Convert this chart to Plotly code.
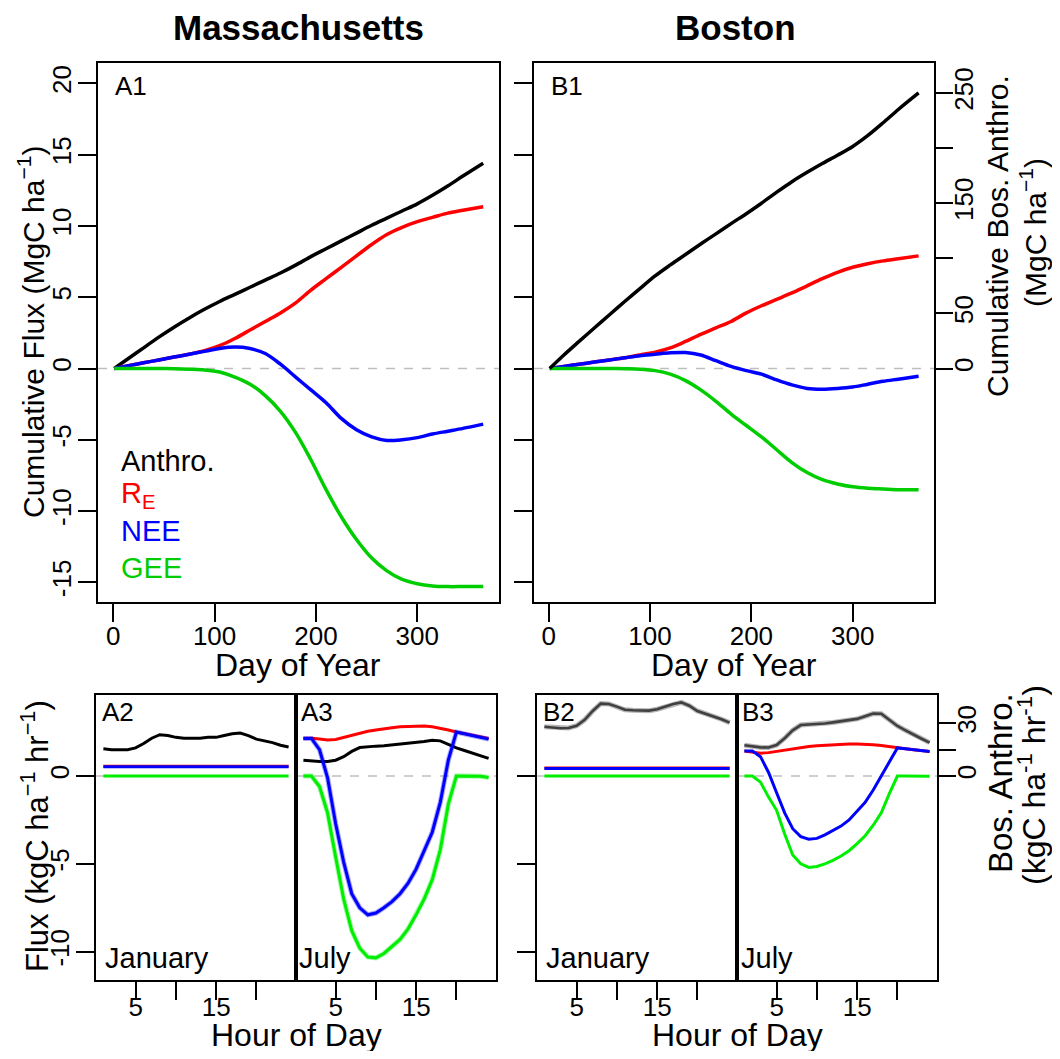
import plotly.graph_objects as go

# page has an 8px body margin: figure is drawn 8px in from the page corner
OFF = 8
W, H = 1044, 1043
FONT = "Liberation Sans"

def fx(p):
    return (p - OFF) / W

def fy(p):
    return 1 - (p - OFF) / H

# ---------------- data: cumulative (top panels) ----------------
days = [1, 15, 30, 45, 60, 75, 90, 105, 120, 135, 150, 165, 180, 195, 210,
        225, 240, 255, 270, 285, 300, 315, 330, 345, 365]

ma_anthro = [0, 0.7, 1.45, 2.2, 2.9, 3.55, 4.15, 4.7, 5.2, 5.7, 6.2, 6.7, 7.25, 7.85, 8.4,
             8.95, 9.5, 10.05, 10.55, 11.05, 11.55, 12.15, 12.8, 13.5, 14.4]
ma_re = [0, 0.2, 0.4, 0.6, 0.8, 1.0, 1.25, 1.6, 2.1, 2.7, 3.3, 3.9, 4.6, 5.5, 6.3,
         7.1, 7.9, 8.7, 9.4, 9.9, 10.3, 10.6, 10.9, 11.1, 11.35]
ma_nee = [0, 0.2, 0.4, 0.6, 0.8, 1.0, 1.2, 1.4, 1.5, 1.4, 1.05, 0.3, -0.6, -1.5, -2.4,
          -3.5, -4.3, -4.8, -5.05, -5.0, -4.85, -4.6, -4.4, -4.2, -3.9]
ma_gee = [0, 0, 0, 0, -0.02, -0.05, -0.1, -0.25, -0.6, -1.1, -1.9, -3.0, -4.5, -6.4, -8.5,
          -10.4, -12.0, -13.3, -14.2, -14.8, -15.1, -15.25, -15.3, -15.3, -15.3]

bos_anthro = [0, 12.3, 24.6, 36.8, 48.8, 60.8, 72.5, 84, 94, 103.5, 113, 122.2, 131.5, 140.5,
              150, 160, 169.5, 178, 186, 193.5, 201.5, 211.5, 223, 235, 250]
bos_re = [0, 0.15, 0.3, 0.45, 0.6, 0.75, 0.95, 1.15, 1.45, 1.9, 2.4, 2.85, 3.3, 3.9, 4.4,
          4.85, 5.3, 5.8, 6.3, 6.75, 7.1, 7.35, 7.55, 7.7, 7.9]
bos_nee = [0, 0.15, 0.3, 0.45, 0.6, 0.75, 0.9, 1.0, 1.1, 1.12, 0.95, 0.55, 0.15, -0.15, -0.4,
           -0.8, -1.15, -1.4, -1.45, -1.4, -1.3, -1.1, -0.9, -0.75, -0.55]
bos_gee = [0, 0, 0, 0, 0, -0.02, -0.05, -0.15, -0.4, -0.85, -1.5, -2.3, -3.2, -4.0, -4.8,
           -5.7, -6.6, -7.3, -7.8, -8.1, -8.3, -8.4, -8.45, -8.5, -8.5]

# ---------------- data: diurnal (bottom panels) ----------------
hours = list(range(1, 25))

ma_jan_anthro = [1.55, 1.5, 1.5, 1.5, 1.6, 1.85, 2.15, 2.35, 2.3, 2.2, 2.15, 2.15,
                 2.15, 2.2, 2.2, 2.3, 2.4, 2.45, 2.3, 2.1, 2.0, 1.9, 1.75, 1.65]
ma_jan_re = [0.55] * 24
ma_jan_nee = [0.53, 0.53, 0.53, 0.53, 0.53, 0.53, 0.53, 0.54, 0.54, 0.54, 0.55, 0.55,
              0.55, 0.56, 0.56, 0.56, 0.55, 0.55, 0.54, 0.54, 0.53, 0.53, 0.53, 0.53]
ma_jan_gee = [0, 0, 0, 0, 0, 0, 0, -0.01, -0.02, -0.02, -0.02, -0.02,
              -0.02, -0.02, -0.02, -0.01, -0.01, 0, 0, 0, 0, 0, 0, 0]

ma_jul_anthro = [0.9, 0.85, 0.82, 0.82, 0.9, 1.1, 1.4, 1.62, 1.68, 1.7, 1.72, 1.76,
                 1.8, 1.85, 1.9, 1.96, 2.03, 2.0, 1.8, 1.6, 1.45, 1.3, 1.15, 1.0]
ma_jul_re = [2.15, 2.15, 2.1, 2.05, 2.08, 2.2, 2.35, 2.45, 2.55, 2.62, 2.7, 2.75,
             2.8, 2.83, 2.85, 2.85, 2.8, 2.72, 2.62, 2.5, 2.4, 2.3, 2.22, 2.14]
ma_jul_nee = [2.14, 2.14, 1.5, -0.1, -2.7, -4.9, -6.7, -7.5, -7.9, -7.8, -7.5, -7.15,
              -6.7, -6.1, -5.3, -4.3, -3.2, -1.5, 0.9, 2.5, 2.4, 2.3, 2.22, 2.1]
ma_jul_gee = [0, 0, -0.6, -2.1, -4.6, -7.0, -8.8, -9.8, -10.3, -10.35, -10.1, -9.7,
              -9.3, -8.7, -7.9, -7.0, -5.9, -4.2, -1.6, 0.0, 0.0, 0.0, -0.02, -0.08]

bos_jan_anthro = [28, 27.6, 27.2, 27.3, 28.6, 32, 37, 41.2, 41, 39.5, 37.7, 37.4,
                  37.3, 37.2, 38, 39.5, 41, 41.9, 40, 37, 35.5, 34.2, 32.3, 30.4]
bos_jan_re = [0.45] * 24
bos_jan_nee = [0.42, 0.42, 0.42, 0.42, 0.42, 0.42, 0.42, 0.43, 0.43, 0.43, 0.44, 0.44,
               0.44, 0.45, 0.45, 0.45, 0.44, 0.44, 0.43, 0.43, 0.42, 0.42, 0.42, 0.42]
bos_jan_gee = [0, 0, 0, 0, 0, 0, 0, -0.01, -0.01, -0.01, -0.01, -0.01,
               -0.01, -0.01, -0.01, -0.01, 0, 0, 0, 0, 0, 0, 0, 0]

bos_jul_anthro = [17.5, 16.8, 16.3, 16.2, 17.6, 21.5, 26, 29, 29.3, 29.4, 29.9, 30.5,
                  31.2, 31.8, 32.5, 34, 35.5, 35.4, 32, 28.5, 26, 23.5, 21.2, 19]
bos_jul_re = [1.42, 1.35, 1.3, 1.33, 1.4, 1.5, 1.57, 1.63, 1.68, 1.72, 1.75, 1.78,
              1.8, 1.82, 1.82, 1.81, 1.78, 1.73, 1.66, 1.6, 1.55, 1.5, 1.45, 1.4]
bos_jul_nee = [1.42, 1.42, 1.1, 0.2, -0.95, -2.1, -3.0, -3.45, -3.6, -3.55, -3.35, -3.1,
               -2.85, -2.5, -2.0, -1.5, -0.8, 0.0, 0.8, 1.6, 1.55, 1.5, 1.45, 1.4]
bos_jul_gee = [0, 0, -0.35, -1.2, -1.95, -3.3, -4.5, -5.0, -5.2, -5.15, -5.0, -4.8,
               -4.55, -4.25, -3.85, -3.4, -2.8, -2.1, -1.0, 0.0, 0.0, 0.0, 0.0, -0.02]

# tick labels
day_ticks = [0, 100, 200, 300]
cum_ticks = [-15, -10, -5, 0, 5, 10, 15, 20]
cum_text = ["-15", "-10", "-5", "0", "5", "10", "15", "20"]
bos_cum_ticks = [0, 50, 100, 150, 200, 250]
bos_cum_text = ["0", "50", "", "150", "", "250"]
hour_ticks = [5, 10, 15, 20]
hour_text = ["5", "", "15", ""]
flux_ticks = [-10, -5, 0]
flux_text = ["-10", "-5", "0"]
bos_flux_ticks = [0, 15, 30]
bos_flux_text = ["0", "", "30"]

BLACK = "#000000"
RED = "#FF0000"
BLUE = "#0000FF"
GREEN_TOP = "#00CD00"
GREEN_BOT = "#00EE00"
GRAY_BOS = "#404040"

fig = go.Figure()

def add(x, y, color, xa, ya, width=3.5, shape="spline", opacity=1.0):
    fig.add_trace(go.Scatter(x=x, y=y, mode="lines", xaxis=xa, yaxis=ya,
                             line=dict(color=color, width=width, shape=shape,
                                       smoothing=0.9 if shape == "spline" else None),
                             opacity=opacity, showlegend=False, hoverinfo="skip"))

# A1
add(days, ma_anthro, BLACK, "x", "y")
add(days, ma_re, RED, "x", "y")
add(days, ma_nee, BLUE, "x", "y")
add(days, ma_gee, GREEN_TOP, "x", "y")
# B1
add(days, bos_re, RED, "x2", "y2")
add(days, bos_nee, BLUE, "x2", "y2")
add(days, bos_gee, GREEN_TOP, "x2", "y2")
add(days, bos_anthro, BLACK, "x2", "y3")
# A2
add(hours, ma_jan_anthro, BLACK, "x4", "y4", 3, "linear")
add(hours, ma_jan_re, RED, "x4", "y4", 3, "linear")
add(hours, ma_jan_nee, BLUE, "x4", "y4", 3, "linear")
add(hours, ma_jan_gee, GREEN_BOT, "x4", "y4", 3, "linear")
# A3
add(hours, ma_jul_anthro, BLACK, "x5", "y5", 3, "linear")
add(hours, ma_jul_re, RED, "x5", "y5", 3, "linear")
add(hours, ma_jul_nee, BLUE, "x5", "y5", 5, "linear", 0.35)
add(hours, ma_jul_nee, BLUE, "x5", "y5", 3, "linear")
add(hours, ma_jul_gee, GREEN_BOT, "x5", "y5", 5, "linear", 0.35)
add(hours, ma_jul_gee, GREEN_BOT, "x5", "y5", 3, "linear")
# B2
add(hours, bos_jan_anthro, "#888888", "x6", "y9", 5, "linear", 0.6)
add(hours, bos_jan_anthro, GRAY_BOS, "x6", "y9", 2.6, "linear")
add(hours, bos_jan_re, RED, "x6", "y6", 3, "linear")
add(hours, bos_jan_nee, BLUE, "x6", "y6", 3, "linear")
add(hours, bos_jan_gee, GREEN_BOT, "x6", "y6", 3, "linear")
# B3
add(hours, bos_jul_anthro, "#888888", "x7", "y8", 5, "linear", 0.6)
add(hours, bos_jul_anthro, GRAY_BOS, "x7", "y8", 2.6, "linear")
add(hours, bos_jul_re, RED, "x7", "y7", 3, "linear")
add(hours, bos_jul_nee, BLUE, "x7", "y7", 3, "linear")
add(hours, bos_jul_gee, GREEN_BOT, "x7", "y7", 3, "linear")

TICKFONT = dict(family=FONT, size=26, color="black")

def xax(dom, rng, anchor, tickvals, ticktext=None, standoff=-8):
    d = dict(domain=[fx(dom[0]), fx(dom[1])], range=rng, anchor=anchor,
             tickmode="array", tickvals=tickvals, ticks="outside", ticklen=18,
             tickwidth=1.5, tickcolor="black", showline=True, mirror=True,
             linewidth=1.6, linecolor="black", showgrid=False, zeroline=False,
             tickfont=TICKFONT, fixedrange=True, ticklabelstandoff=standoff)
    if ticktext is not None:
        d["ticktext"] = ticktext
    return d

def yax(dom, rng, anchor, tickvals, labels=True, ticktext=None, ticks="outside"):
    d = dict(domain=[fy(dom[1]), fy(dom[0])], range=rng, anchor=anchor,
             tickmode="array", tickvals=tickvals, ticks=ticks, ticklen=18,
             tickwidth=1.5, tickcolor="black", showline=True, mirror=True,
             linewidth=1.6, linecolor="black", showgrid=False, zeroline=False,
             tickfont=TICKFONT, tickangle=-90, showticklabels=labels, fixedrange=True,
             ticklabelstandoff=-3)
    if ticktext is not None:
        d["ticktext"] = ticktext
    return d

def yright(overlay, anchor, rng, tickvals, ticktext):
    return dict(overlaying=overlay, side="right", anchor=anchor, range=rng,
                tickmode="array", tickvals=tickvals, ticktext=ticktext,
                ticks="outside", ticklen=18, tickwidth=1.5, tickcolor="black",
                showline=False, showgrid=False, zeroline=False, tickfont=TICKFONT,
                tickangle=-90, fixedrange=True, ticklabelstandoff=-11)

TOP_Y = (63, 602)
BOT_Y = (695, 980)
cum_range = [-16.38, 21.43]
bos_cum_range = [-211.8, 277.2]
flux_range = [-11.61, 4.61]
bos_flux_range = [-116.1, 46.1]
hour_range = [0.08, 24.92]
BS = -15  # bottom panels tick label standoff

layout = dict(
    width=W, height=H,
    margin=dict(l=0, r=0, t=0, b=0),
    paper_bgcolor="white", plot_bgcolor="white",
    font=dict(family=FONT, color="black"),
    showlegend=False,
    xaxis=xax((98, 499), [-15.0, 380.6], "y", day_ticks),
    yaxis=yax(TOP_Y, cum_range, "x", cum_ticks, ticktext=cum_text),
    xaxis2=xax((534, 934), [-14.5, 380.2], "y2", day_ticks),
    yaxis2=yax(TOP_Y, cum_range, "x2", cum_ticks, labels=False),
    yaxis3=yright("y2", "x2", bos_cum_range, bos_cum_ticks, bos_cum_text),
    xaxis4=xax((96, 296), hour_range, "y4", hour_ticks, hour_text, BS),
    yaxis4=yax(BOT_Y, flux_range, "x4", flux_ticks, ticktext=flux_text),
    xaxis5=xax((296, 496), hour_range, "y5", hour_ticks, hour_text, BS),
    yaxis5=yax(BOT_Y, flux_range, "x5", flux_ticks, labels=False, ticks=""),
    xaxis6=xax((537, 737), hour_range, "y6", hour_ticks, hour_text, BS),
    yaxis6=yax(BOT_Y, flux_range, "x6", flux_ticks, labels=False),
    yaxis9=dict(overlaying="y6", anchor="x6", range=bos_flux_range, visible=False,
                fixedrange=True),
    xaxis7=xax((737, 937), hour_range, "y7", hour_ticks, hour_text, BS),
    yaxis7=yax(BOT_Y, flux_range, "x7", flux_ticks, labels=False, ticks=""),
    yaxis8=yright("y7", "x7", bos_flux_range, bos_flux_ticks, bos_flux_text),
)
fig.update_layout(**layout)

# dashed zero lines
for xa, ya in [("x", "y"), ("x2", "y2"), ("x4", "y4"), ("x5", "y5"), ("x6", "y6"), ("x7", "y7")]:
    fig.add_shape(type="line", xref=f"{xa} domain", yref=ya, x0=0, x1=1, y0=0, y1=0,
                  line=dict(color="#BEBEBE", width=1.6, dash="dash"), layer="below")

def txt(x, y, s, size, color="black", xanchor="center", angle=0, bold=False):
    fig.add_annotation(x=fx(x), y=fy(y), xref="paper", yref="paper", text=s,
                       showarrow=False, xanchor=xanchor, yanchor="middle",
                       textangle=angle, borderpad=0,
                       font=dict(family=FONT, size=size, color=color,
                                 weight="bold" if bold else "normal"))

# titles
txt(298, 28, "Massachusetts", 35, bold=True)
txt(735, 28, "Boston", 35, bold=True)

# panel labels
txt(114, 86, "A1", 26, xanchor="left")
txt(550, 86, "B1", 26, xanchor="left")
txt(101, 712, "A2", 26, xanchor="left")
txt(300, 712, "A3", 26, xanchor="left")
txt(542, 712, "B2", 26, xanchor="left")
txt(741, 712, "B3", 26, xanchor="left")
txt(104, 958, "January", 29, xanchor="left")
txt(298, 958, "July", 29, xanchor="left")
txt(545, 958, "January", 29, xanchor="left")
txt(740, 958, "July", 29, xanchor="left")

# legend (A1)
txt(120, 461, "Anthro.", 29, BLACK, xanchor="left")
txt(120, 495, "R<sub>E</sub>", 29, RED, xanchor="left")
txt(120, 531, "NEE", 29, BLUE, xanchor="left")
txt(120, 568, "GEE", 29, GREEN_TOP, xanchor="left")

# axis titles
txt(298, 665, "Day of Year", 32)
txt(734, 665, "Day of Year", 32)
txt(296, 1035, "Hour of Day", 32)
txt(737, 1035, "Hour of Day", 32)
txt(31, 332, "Cumulative Flux (MgC ha<sup>−1</sup>)", 30, angle=-90)
txt(35, 836, "Flux (kgC ha<sup>−1</sup> hr<sup>−1</sup>)", 31, angle=-90)
txt(998, 236, "Cumulative Bos. Anthro.", 30, angle=-90)
txt(1033, 233, "(MgC ha<sup>−1</sup>)", 30, angle=-90)
txt(1000, 783, "Bos. Anthro.", 33, angle=-90)
txt(1032, 785, "(kgC ha<sup>-1</sup> hr<sup>-1</sup>)", 32, angle=-90)

fig.write_html("out.html")
